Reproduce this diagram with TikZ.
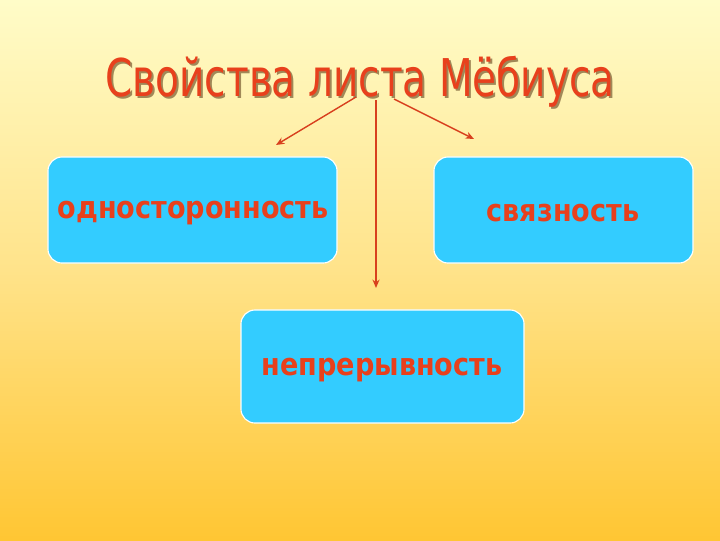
\documentclass[tikz,border=0pt]{standalone}
\usepackage{fontspec}
\setmainfont[FakeStretch=0.875]{DejaVu Sans}
\newfontfamily\headfont[FakeStretch=0.75]{DejaVu Sans}
\usetikzlibrary{arrows.meta, positioning}
\definecolor{sky}{HTML}{33CCFF}
\definecolor{brick}{HTML}{E8401C}
\definecolor{wire}{HTML}{D8401E}
\definecolor{shade1}{HTML}{FFFCC8}
\definecolor{shade2}{HTML}{FFE38A}
\definecolor{shade3}{HTML}{FFC633}
\definecolor{dusk}{HTML}{A08858}
\tikzset{%
	prop/.style={draw=white, fill=sky, line width=0.8pt, rounded corners=10pt,%
		minimum height=2.65cm, inner sep=0mm},
	word/.style={inner sep=0mm, text=brick, font=\bfseries\fontsize{22}{24}\selectfont},
	head/.style={inner sep=0mm, font=\headfont\fontsize{37}{40}\selectfont},
	sel/.style={-{Stealth[length=6pt, width=5pt]}, draw=wire, line width=1pt}
}
\begin{document}
\begin{tikzpicture}[x=0.025cm, y=-0.025cm]
	\shade[top color=shade1, bottom color=shade3, middle color=shade2] (0,0) rectangle (720,540);
	\useasboundingbox (0,0) rectangle (720,540);

	\node[head, text=dusk] (shadow) at (362,84) {Свойства листа Мёбиуса};
	\node[head, text=brick] (title) at (360,82) {Свойства листа Мёбиуса};

	\node[prop, minimum width=7.225cm] (one) at (192.5,210) {};
	\node[prop, minimum width=6.475cm] (link) at (563.5,210) {};
	\node[prop, minimum width=7.075cm, minimum height=2.825cm] (cont) at (382.5,366.5) {};
	\node[word] (onetext) at (193,213) {односторонность};
	\node[word] (linktext) at (563,213) {связность};
	\node[word] (conttext) at (382,370) {непрерывность};

	\coordinate (a1) at (356,97);
	\coordinate (a2) at (376,100);
	\coordinate (a3) at (394,99);
	\coordinate (e1) at (276,145);
	\coordinate (e2) at (376,288);
	\coordinate (e3) at (474,139);

	\draw[sel] (a1) to (e1);
	\draw[sel] (a2) to (e2);
	\draw[sel] (a3) to (e3);
\end{tikzpicture}
\end{document}
